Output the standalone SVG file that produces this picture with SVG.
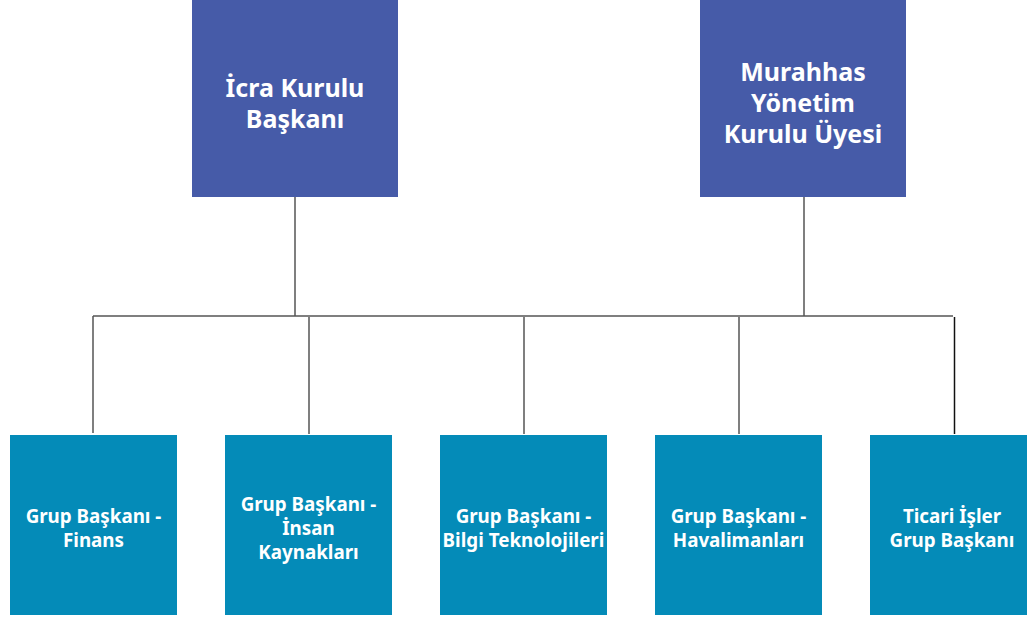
<svg xmlns="http://www.w3.org/2000/svg" width="1027" height="618" viewBox="0 0 1027 618">
<style>
.top{fill:#465BA8}
.bot{fill:#048BB8}
.t1{font-family:"Noto Sans",Lato,sans-serif;font-weight:bold;font-size:25px;fill:#fff;text-anchor:middle}
.t2{font-family:"Noto Sans",Lato,sans-serif;font-weight:bold;font-size:18.8px;fill:#fff;text-anchor:middle}
.ln{stroke:#555;stroke-width:1.5;fill:none}
</style>
<rect width="1027" height="618" fill="#fff"/>
<g id="connectors">
<path class="ln" d="M295 197V316M804 197V316M93 316H953"/>
<path class="ln" d="M93 316V433M309 317V434M524 317V434M739 317V434"/>
<path d="M954.5 317V434" stroke="#111" stroke-width="1.5"/>
</g>
<g id="n-icra">
<rect class="top" x="192" y="0" width="206" height="197"/>
<text class="t1" x="295" y="97">İcra Kurulu</text>
<text class="t1" x="295" y="128">Başkanı</text>
</g>
<g id="n-murahhas">
<rect class="top" x="700" y="0" width="206" height="197"/>
<text class="t1" x="803" y="81">Murahhas</text>
<text class="t1" x="803" y="112">Yönetim</text>
<text class="t1" x="803" y="143">Kurulu Üyesi</text>
</g>
<g id="n-finans">
<rect class="bot" x="10" y="435" width="167" height="180"/>
<text class="t2" x="93.5" y="523">Grup Başkanı -</text>
<text class="t2" x="93.5" y="547">Finans</text>
</g>
<g id="n-insan">
<rect class="bot" x="225" y="435" width="167" height="180"/>
<text class="t2" x="308.5" y="511">Grup Başkanı -</text>
<text class="t2" x="308.5" y="535">İnsan</text>
<text class="t2" x="308.5" y="559">Kaynakları</text>
</g>
<g id="n-bilgi">
<rect class="bot" x="440" y="435" width="167" height="180"/>
<text class="t2" x="523.5" y="523">Grup Başkanı -</text>
<text class="t2" x="523.5" y="547">Bilgi Teknolojileri</text>
</g>
<g id="n-havalimanlari">
<rect class="bot" x="655" y="435" width="167" height="180"/>
<text class="t2" x="738.5" y="523">Grup Başkanı -</text>
<text class="t2" x="738.5" y="547">Havalimanları</text>
</g>
<g id="n-ticari">
<rect class="bot" x="870" y="435" width="157" height="180"/>
<text class="t2" x="952" y="523">Ticari İşler</text>
<text class="t2" x="952" y="547">Grup Başkanı</text>
</g>
</svg>
